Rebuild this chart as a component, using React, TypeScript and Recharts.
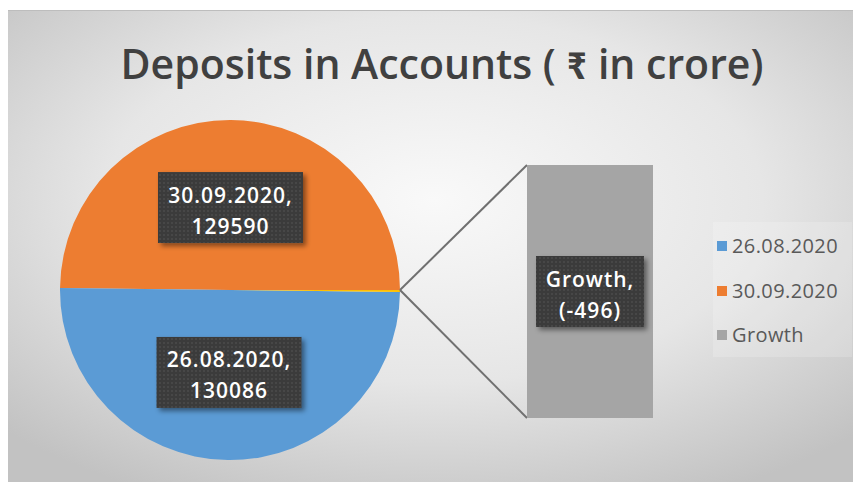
import React from 'react';
import { PieChart, Pie, Cell, BarChart, Bar, XAxis, YAxis, LabelList } from 'recharts';

// values (₹ in crore)
const categories = ['26.08.2020', '30.09.2020', 'Growth'];
const deposits = [130086, 129590, -496];
const seriesColors = ['#5B9BD5', '#ED7D31', '#A5A5A5'];
const otherSliceColor = '#FFC000';

const W = 854;
const H = 474;
const CX = 223;
const CY = 280;
const R = 170;
const BAR_LEFT = 520;
const BAR_TOP = 155;
const BAR_W = 126;
const BAR_H = 253;

const FONT = '"Open Sans", Calibri, sans-serif';

const fmt = (v: number) => (v < 0 ? `(${v})` : String(v));

// pie draws orange first so it sits on top, the bar item is folded into a thin slice
const pieData = [
  { name: categories[1], value: deposits[1], fill: seriesColors[1] },
  { name: categories[0], value: deposits[0], fill: seriesColors[0] },
  { name: 'Other', value: Math.abs(deposits[2]), fill: otherSliceColor },
];

const barData = [{ name: categories[2], value: Math.abs(deposits[2]), raw: deposits[2] }];

const DataBox = ({ x, y, w, lines }: { x: number; y: number; w: number; lines: string[] }) => {
  const h = 71;
  const txt = { fill: '#fff', fontFamily: FONT, fontWeight: 600, fontSize: 21, letterSpacing: 1 };
  return (
    <g>
      <rect x={x - w / 2} y={y - h / 2} width={w} height={h} fill="url(#dotPattern)" filter="url(#boxShadow)" />
      <text x={x} y={y - 13} textAnchor="middle" dominantBaseline="central" style={txt}>
        {lines[0]}
      </text>
      <text x={x} y={y + 18} textAnchor="middle" dominantBaseline="central" style={txt}>
        {lines[1]}
      </text>
    </g>
  );
};

const renderPieLabel = (props: any) => {
  const { cx, cy, midAngle, outerRadius, name, value } = props;
  if (name === 'Other') return null;
  const rad = Math.PI / 180;
  const x = cx + outerRadius * 0.485 * Math.cos(-midAngle * rad);
  const y = cy + outerRadius * 0.485 * Math.sin(-midAngle * rad);
  return <DataBox x={x} y={y} w={145} lines={[`${name},`, fmt(value)]} />;
};

const renderBarLabel = (props: any) => {
  const { x, y, width, height, index } = props;
  const d = barData[index];
  return <DataBox x={x + width / 2} y={y + height / 2} w={108} lines={[`${d.name},`, fmt(d.raw)]} />;
};

export default function App() {
  return (
    <div style={{ position: 'relative', top: 2, left: -1, width: W, height: H, fontFamily: FONT }}>
      <svg width={W} height={H} style={{ position: 'absolute', left: 0, top: 0 }}>
        <defs>
          <radialGradient id="bgGrad" cx="50%" cy="40%" r="70%">
            <stop offset="0%" stopColor="#f9f9f9" />
            <stop offset="55%" stopColor="#e6e6e6" />
            <stop offset="100%" stopColor="#c2c2c2" />
          </radialGradient>
          <pattern id="dotPattern" width="4" height="4" patternUnits="userSpaceOnUse">
            <rect width="4" height="4" fill="#3b3b3b" />
            <circle cx="1" cy="1" r="0.7" fill="#5a5a5a" />
          </pattern>
          <filter id="boxShadow" x="-20%" y="-20%" width="150%" height="150%">
            <feDropShadow dx="3" dy="3" stdDeviation="2.5" floodColor="#000" floodOpacity="0.45" />
          </filter>
        </defs>
        <rect x={0} y={0} width={W} height={H} fill="url(#bgGrad)" />
        <line x1={0} y1={0.5} x2={W} y2={0.5} stroke="#bdbdbd" />
        <text x={435} y={69} textAnchor="middle" fill="#404040" fontFamily={FONT} fontWeight={600} fontSize={41}>
          Deposits in Accounts ( ₹ in crore)
        </text>
      </svg>

      <div style={{ position: 'absolute', left: 0, top: 0 }}>
        <PieChart width={W} height={H} margin={{ top: 0, right: 0, bottom: 0, left: 0 }}>
          <Pie
            data={pieData}
            dataKey="value"
            nameKey="name"
            cx={CX}
            cy={CY}
            outerRadius={R}
            startAngle={0}
            endAngle={360}
            stroke="none"
            labelLine={false}
            label={renderPieLabel}
            isAnimationActive={false}
          >
            {pieData.map((d, i) => (
              <Cell key={`cell-${i}`} fill={d.fill} />
            ))}
          </Pie>
        </PieChart>
      </div>

      <svg width={W} height={H} style={{ position: 'absolute', left: 0, top: 0, pointerEvents: 'none' }}>
        <line x1={CX + R} y1={CY} x2={BAR_LEFT} y2={BAR_TOP} stroke="#707070" strokeWidth={2} />
        <line x1={CX + R} y1={CY} x2={BAR_LEFT} y2={BAR_TOP + BAR_H} stroke="#707070" strokeWidth={2} />
      </svg>

      <div style={{ position: 'absolute', left: BAR_LEFT, top: BAR_TOP }}>
        <BarChart
          width={BAR_W}
          height={BAR_H}
          data={barData}
          margin={{ top: 0, right: 0, bottom: 0, left: 0 }}
          barCategoryGap={0}
          style={{ overflow: 'visible' }}
        >
          <XAxis dataKey="name" hide />
          <YAxis hide domain={[0, 'dataMax']} />
          <Bar dataKey="value" fill={seriesColors[2]} isAnimationActive={false}>
            <LabelList dataKey="value" content={renderBarLabel} />
          </Bar>
        </BarChart>
      </div>

      <div
        style={{
          position: 'absolute',
          left: 706,
          top: 212,
          width: 139,
          height: 135,
          background: 'rgba(255,255,255,0.18)',
          boxSizing: 'border-box',
          paddingTop: 2,
        }}
      >
        {categories.map((c, i) => (
          <div key={c} style={{ display: 'flex', alignItems: 'center', height: 44.5, paddingLeft: 4 }}>
            <span style={{ width: 10, height: 10, background: seriesColors[i], display: 'inline-block', marginRight: 5 }} />
            <span style={{ fontSize: 20, color: '#595959', lineHeight: '22px', letterSpacing: 0.4 }}>{c}</span>
          </div>
        ))}
      </div>
    </div>
  );
}
